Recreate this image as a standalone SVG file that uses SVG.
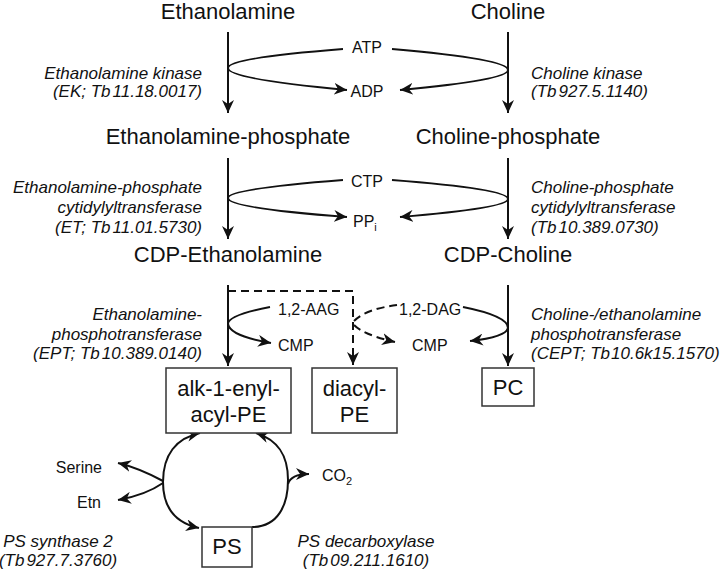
<svg xmlns="http://www.w3.org/2000/svg" width="720" height="570" viewBox="0 0 720 570">
<style>
text{font-family:"Liberation Sans",Arial,sans-serif;fill:#111}
.big{font-size:22px;text-anchor:middle}
.sm{font-size:16px}
.enz{font-size:17px;font-style:italic}
.r{text-anchor:end}
.m{text-anchor:middle}
.ln{fill:none;stroke:#111;stroke-width:2}
.ds{fill:none;stroke:#111;stroke-width:2;stroke-dasharray:8,5}
.box{fill:#fff;stroke:#333;stroke-width:1.5}
</style>
<defs>
<marker id="ah" markerWidth="14" markerHeight="12" refX="13" refY="6" orient="auto" markerUnits="userSpaceOnUse">
<path d="M0,0 L13,6 L0,12 L4,6 Z" fill="#111"/>
</marker>
</defs>
<rect width="720" height="570" fill="#fff"/>

<g id="connectors">
<path class="ln" d="M228,32 V113" marker-end="url(#ah)"/>
<path class="ln" d="M508,32 V113" marker-end="url(#ah)"/>
<path class="ln" d="M343,49 Q228,58 228,68"/>
<path class="ln" d="M228,68 Q228,79 347,90" marker-end="url(#ah)"/>
<path class="ln" d="M392,49 Q508,59 508,70"/>
<path class="ln" d="M508,70 Q508,80 400,90" marker-end="url(#ah)"/>

<path class="ln" d="M228,158 V239" marker-end="url(#ah)"/>
<path class="ln" d="M508,158 V239" marker-end="url(#ah)"/>
<path class="ln" d="M343,180 Q228,189 228,198"/>
<path class="ln" d="M228,198 Q228,208 347,217" marker-end="url(#ah)"/>
<path class="ln" d="M392,180 Q508,189 508,199"/>
<path class="ln" d="M508,199 Q508,208 400,217" marker-end="url(#ah)"/>

<path class="ln" d="M228,285 V366" marker-end="url(#ah)"/>
<path class="ln" d="M508,285 V366" marker-end="url(#ah)"/>
<path class="ln" d="M270,307 Q228,315 228,324"/>
<path class="ln" d="M228,324 Q230,336 271,343" marker-end="url(#ah)"/>
<path class="ln" d="M463,307 Q508,316 508,328"/>
<path class="ln" d="M508,328 Q506,337 470,341" marker-end="url(#ah)"/>

<path class="ds" d="M228,291 H353 V365" marker-end="url(#ah)"/>
<path class="ds" d="M354,321 Q366,309 397,305"/>
<path class="ds" d="M354,325 Q364,335 395,342" marker-end="url(#ah)"/>

<path class="ln" d="M163,482 C163,455 176,438 200,433" marker-end="url(#ah)"/>
<path class="ln" d="M163,482 C163,508 176,523 199,528" marker-end="url(#ah)"/>
<path class="ln" d="M163,481 C150,474 135,467 118,463" marker-end="url(#ah)"/>
<path class="ln" d="M163,483 C150,492 135,497 118,500" marker-end="url(#ah)"/>
<path class="ln" d="M252,527 C278,527 288,505 288,480 C288,455 278,440 256,433" marker-end="url(#ah)"/>
<path class="ln" d="M288,484 Q291,474 309,474" marker-end="url(#ah)"/>
</g>

<g id="ethanolamine"><text class="big" x="228" y="19">Ethanolamine</text></g>
<g id="choline"><text class="big" x="508" y="19">Choline</text></g>
<g id="ethanolamine-phosphate"><text class="big" x="228" y="144">Ethanolamine-phosphate</text></g>
<g id="choline-phosphate"><text class="big" x="508" y="144">Choline-phosphate</text></g>
<g id="cdp-ethanolamine"><text class="big" x="228" y="262">CDP-Ethanolamine</text></g>
<g id="cdp-choline"><text class="big" x="508" y="262">CDP-Choline</text></g>

<g id="alk-pe"><rect class="box" x="166" y="368" width="125" height="65"/>
<text class="big" x="228.5" y="396">alk-1-enyl-</text><text class="big" x="228.5" y="422">acyl-PE</text></g>
<g id="diacyl-pe"><rect class="box" x="312" y="368" width="85" height="65"/>
<text class="big" x="354.5" y="396">diacyl-</text><text class="big" x="354.5" y="422">PE</text></g>
<g id="pc"><rect class="box" x="482" y="368" width="52" height="38"/>
<text class="big" x="508" y="395">PC</text></g>
<g id="ps"><rect class="box" x="202" y="527" width="50" height="40"/>
<text class="big" x="227" y="554">PS</text></g>

<g id="atp"><text class="sm m" x="367" y="53">ATP</text></g>
<g id="adp"><text class="sm m" x="367" y="97">ADP</text></g>
<g id="ctp"><text class="sm m" x="367" y="187">CTP</text></g>
<g id="ppi"><text class="sm" x="353" y="227">PP<tspan font-size="11" dy="4">i</tspan></text></g>
<g id="aag"><text class="sm" x="278" y="315">1,2-AAG</text></g>
<g id="cmp1"><text class="sm" x="278" y="351">CMP</text></g>
<g id="dag"><text class="sm" x="399" y="315">1,2-DAG</text></g>
<g id="cmp2"><text class="sm" x="412" y="351">CMP</text></g>
<g id="serine"><text class="sm r" x="102" y="473">Serine</text></g>
<g id="etn"><text class="sm r" x="101" y="508">Etn</text></g>
<g id="co2"><text class="sm" x="322" y="481">CO<tspan font-size="11" dy="4">2</tspan></text></g>

<g id="enz-ek">
<text class="enz r" x="202" y="79">Ethanolamine kinase</text>
<text class="enz r" x="202" y="97">(EK; Tb<tspan dx="2">11.18.0017)</tspan></text>
</g>
<g id="enz-ck">
<text class="enz" x="531" y="79">Choline kinase</text>
<text class="enz" x="531" y="97">(Tb<tspan dx="2">927.5.1140)</tspan></text>
</g>
<g id="enz-et">
<text class="enz r" x="202" y="193">Ethanolamine-phosphate</text>
<text class="enz r" x="202" y="213">cytidylyltransferase</text>
<text class="enz r" x="202" y="233">(ET; Tb<tspan dx="2">11.01.5730)</tspan></text>
</g>
<g id="enz-ct">
<text class="enz" x="531" y="193">Choline-phosphate</text>
<text class="enz" x="531" y="213">cytidylyltransferase</text>
<text class="enz" x="531" y="233">(Tb<tspan dx="2">10.389.0730)</tspan></text>
</g>
<g id="enz-ept">
<text class="enz r" x="202" y="320">Ethanolamine-</text>
<text class="enz r" x="202" y="340">phosphotransferase</text>
<text class="enz r" x="202" y="359">(EPT; Tb<tspan dx="2">10.389.0140)</tspan></text>
</g>
<g id="enz-cept">
<text class="enz" x="531" y="320">Choline-/ethanolamine</text>
<text class="enz" x="531" y="340">phosphotransferase</text>
<text class="enz" x="531" y="359">(CEPT; Tb<tspan dx="1">10.6k15.1570)</tspan></text>
</g>
<g id="enz-pss">
<text class="enz m" x="58" y="547">PS synthase 2</text>
<text class="enz m" x="58" y="566">(Tb<tspan dx="2">927.7.3760)</tspan></text>
</g>
<g id="enz-psd">
<text class="enz m" x="366" y="547">PS decarboxylase</text>
<text class="enz m" x="366" y="566">(Tb<tspan dx="2">09.211.1610)</tspan></text>
</g>
</svg>
